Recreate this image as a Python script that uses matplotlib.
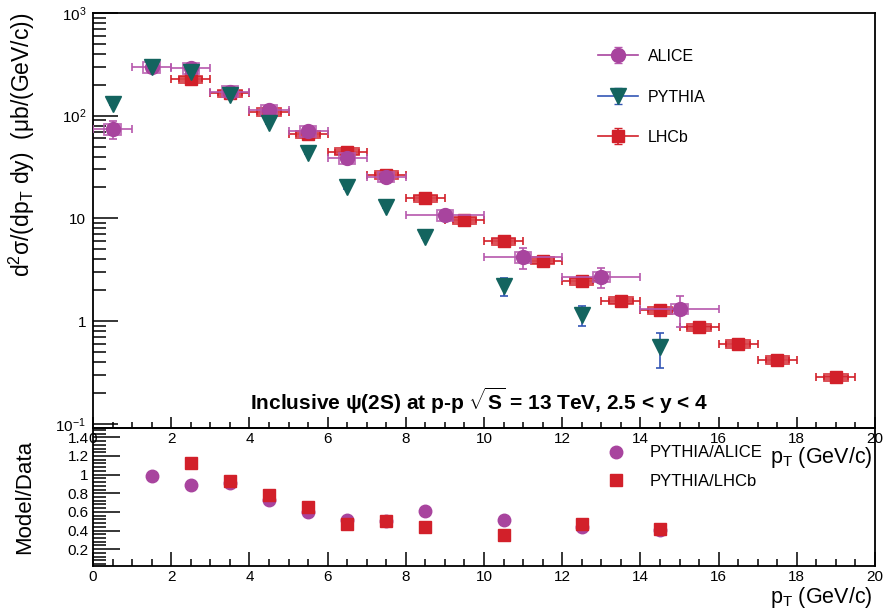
import numpy as np
import matplotlib
matplotlib.use("Agg")
import matplotlib.pyplot as plt
from matplotlib.patches import Rectangle
from matplotlib.ticker import FixedLocator, FixedFormatter, MultipleLocator, LogLocator, NullFormatter

plt.rcParams['font.family'] = ['Liberation Sans', 'DejaVu Sans']
plt.rcParams['mathtext.fontset'] = 'custom'
plt.rcParams['mathtext.rm'] = 'Liberation Sans'
plt.rcParams['mathtext.it'] = 'Liberation Sans:italic'
plt.rcParams['mathtext.bf'] = 'Liberation Sans:bold'
plt.rcParams['mathtext.default'] = 'regular'

# ---------------- data ----------------
alice_x = [0.5, 1.5, 2.5, 3.5, 4.5, 5.5, 6.5, 7.5, 9.0, 11.0, 13.0, 15.0]
alice_xerr = [0.5, 0.5, 0.5, 0.5, 0.5, 0.5, 0.5, 0.5, 1.0, 1.0, 1.0, 1.0]
alice_y = [74, 295, 292, 172, 114, 71, 38.6, 25.5, 10.8, 4.2, 2.7, 1.32]
alice_stat = [15, 20, 18, 8, 6, 4, 3, 2, 0.8, 1.0, 0.6, 0.45]
alice_sys = [0.12] * 12

pythia_x = [0.5, 1.5, 2.5, 3.5, 4.5, 5.5, 6.5, 7.5, 8.5, 10.5, 12.5, 14.5]
pythia_y = [130, 295, 265, 160, 85, 43.5, 20, 12.9, 6.6, 2.2, 1.15, 0.56]
pythia_err = [2, 4, 4, 3, 1.5, 0.8, 0.5, 0.3, 0.2, 0.45, 0.26, 0.21]

lhcb_x = [2.5, 3.5, 4.5, 5.5, 6.5, 7.5, 8.5, 9.5, 10.5, 11.5, 12.5, 13.5, 14.5,
          15.5, 16.5, 17.5, 19.0]
lhcb_xerr = [0.5] * 17
lhcb_y = [227, 166, 109, 66, 44.6, 26.5, 15.8, 9.6, 6.0, 3.87, 2.45, 1.58, 1.27,
          0.87, 0.60, 0.42, 0.283]
lhcb_stat = [8, 5, 3, 2, 1.3, 0.8, 0.5, 0.3, 0.2, 0.13, 0.09, 0.06, 0.05,
             0.035, 0.025, 0.02, 0.015]
lhcb_sys = [0.08] * 17

ratio_alice_x = [1.5, 2.5, 3.5, 4.5, 5.5, 6.5, 7.5, 8.5, 10.5, 12.5, 14.5]
ratio_alice_y = [0.99, 0.885, 0.91, 0.73, 0.595, 0.51, 0.50, 0.605, 0.51, 0.435, 0.41]
ratio_lhcb_x = [2.5, 3.5, 4.5, 5.5, 6.5, 7.5, 8.5, 10.5, 12.5, 14.5]
ratio_lhcb_y = [1.125, 0.935, 0.785, 0.65, 0.47, 0.505, 0.44, 0.355, 0.475, 0.415]

# ---------------- style ----------------
C_ALICE = '#a8449e'
C_ALICE_ERR = '#b657ad'
C_PYTHIA = '#13645f'
C_PYTHIA_ERR = '#3456b5'
C_LHCB = '#d2202a'

W, H = 883, 614
fig = plt.figure(figsize=(W / 100, H / 100), dpi=100)

def fx(px):
    return px / W

def fy(py):
    return 1 - py / H

ax = fig.add_axes([fx(93), fy(428), fx(875) - fx(93), fy(13) - fy(428)])
axr = fig.add_axes([fx(93), fy(566), fx(875) - fx(93), fy(428) - fy(566)])

# ---------------- top panel ----------------
ax.set_yscale('log')
ax.set_xlim(0, 20)
ax.set_ylim(0.091, 1000)

def draw_boxes(a, xs, ys, rel, hw, color, z):
    for xi, yi, ri in zip(xs, ys, rel):
        a.add_patch(Rectangle((xi - hw, yi * (1 - ri)), 2 * hw, yi * 2 * ri,
                              fill=False, ec=color, lw=1.3, zorder=z, alpha=0.85))

# LHCb
draw_boxes(ax, lhcb_x, lhcb_y, lhcb_sys, 0.3, C_LHCB, 3)
draw_boxes(ax, lhcb_x, lhcb_y, [s / 2 for s in lhcb_sys], 0.3, C_LHCB, 3)
ax.errorbar(lhcb_x, lhcb_y, xerr=lhcb_xerr, yerr=lhcb_stat, fmt='none',
            ecolor=C_LHCB, elinewidth=1.2, capsize=3, capthick=1.2, zorder=3)
ax.plot(lhcb_x, lhcb_y, 's', color=C_LHCB, ms=9, mec=C_LHCB, zorder=4)

# ALICE
draw_boxes(ax, alice_x, alice_y, alice_sys, 0.21, C_ALICE_ERR, 5)
ax.errorbar(alice_x, alice_y, xerr=alice_xerr, yerr=alice_stat, fmt='none',
            ecolor=C_ALICE_ERR, elinewidth=1.2, capsize=3, capthick=1.2, zorder=5)
ax.plot(alice_x, alice_y, 'o', color=C_ALICE, ms=10, mec=C_ALICE, zorder=6)

# PYTHIA
ax.errorbar(pythia_x, pythia_y, yerr=pythia_err, fmt='none',
            ecolor=C_PYTHIA_ERR, elinewidth=1.2, capsize=3, capthick=1.2, zorder=7)
ax.plot(pythia_x, pythia_y, 'v', color=C_PYTHIA, ms=12, mec=C_PYTHIA, zorder=8)

# legend proxies
nan = [np.nan]
h1 = ax.errorbar(nan, nan, yerr=[1], fmt='-o', color=C_ALICE, ecolor=C_ALICE_ERR,
                 ms=10, lw=1.2, capsize=3, label='ALICE')
h2 = ax.errorbar(nan, nan, yerr=[1], fmt='-v', color=C_PYTHIA, mfc=C_PYTHIA, mec=C_PYTHIA,
                 ecolor=C_PYTHIA_ERR, ms=12, lw=1.2, capsize=3, label='PYTHIA')
h2[0].set_color(C_PYTHIA_ERR)
h2[0].set_markerfacecolor(C_PYTHIA)
h2[0].set_markeredgecolor(C_PYTHIA)
h3 = ax.errorbar(nan, nan, yerr=[1], fmt='-s', color=C_LHCB, ecolor=C_LHCB,
                 ms=9, lw=1.2, capsize=3, label='LHCb')
leg = fig.legend(handles=[h1, h2, h3], loc='center left',
                 bbox_to_anchor=(fx(598), fy(97)), frameon=False, fontsize=11.5,
                 handlelength=2.5, handletextpad=0.6, labelspacing=1.6,
                 borderpad=0, borderaxespad=0)

# ticks top panel
ax.yaxis.set_major_locator(FixedLocator([0.1, 1, 10, 100, 1000]))
ax.yaxis.set_major_formatter(FixedFormatter(['$10^{-1}$', '1', '10', '$10^{2}$', '$10^{3}$']))
ax.yaxis.set_minor_locator(LogLocator(base=10, subs=np.arange(2, 10), numticks=20))
ax.yaxis.set_minor_formatter(NullFormatter())
ax.xaxis.set_major_locator(MultipleLocator(2))
ax.xaxis.set_minor_locator(MultipleLocator(0.5))
ax.tick_params(axis='y', which='major', direction='in', length=18, width=1.1,
               labelsize=11, pad=5)
ax.tick_params(axis='y', which='minor', direction='in', length=9, width=1.1)
ax.tick_params(axis='x', which='major', direction='in', length=8, width=1.1,
               labelsize=11, pad=3)
ax.tick_params(axis='x', which='minor', direction='in', length=4.3, width=1.1)
for s in ax.spines.values():
    s.set_linewidth(1.3)

fig.text(fx(22), fy(13), 'd$^{2}$σ/(dp$_{T}$ dy)  (μb/(GeV/c))', rotation=90,
         ha='center', va='top', fontsize=16.5)
fig.text(fx(873), fy(458), 'p$_{T}$ (GeV/c)', ha='right', va='center', fontsize=15.5)
fig.text(fx(250), fy(401),
         r'Inclusive ψ(2S) at p-p $\sqrt{\mathbf{S}}$ = 13 TeV, 2.5 < y < 4',
         ha='left', va='center', fontsize=15, fontweight='bold')

# ---------------- ratio panel ----------------
axr.set_xlim(0, 20)
axr.set_ylim(0.02, 1.5)
axr.set_facecolor('none')
axr.plot(ratio_alice_x, ratio_alice_y, 'o', color=C_ALICE, ms=9, label='PYTHIA/ALICE', zorder=3)
axr.plot(ratio_lhcb_x, ratio_lhcb_y, 's', color=C_LHCB, ms=8, label='PYTHIA/LHCb', zorder=4)
axr.legend(loc='center left', bbox_to_anchor=(fx(606), fy(467)),
           bbox_transform=fig.transFigure, frameon=False, fontsize=12,
           handlelength=1.2, handletextpad=1.4, labelspacing=0.8,
           borderpad=0, borderaxespad=0)

axr.yaxis.set_major_locator(FixedLocator([0.2, 0.4, 0.6, 0.8, 1.0, 1.2, 1.4]))
axr.yaxis.set_major_formatter(FixedFormatter(['0.2', '0.4', '0.6', '0.8', '1', '1.2', '1.4']))
axr.yaxis.set_minor_locator(MultipleLocator(0.04))
axr.xaxis.set_major_locator(MultipleLocator(2))
axr.xaxis.set_minor_locator(MultipleLocator(0.5))
axr.tick_params(axis='y', which='major', direction='in', length=19.5, width=1.1,
                labelsize=11, pad=3)
axr.tick_params(axis='y', which='minor', direction='in', length=9.5, width=1.1)
axr.tick_params(axis='x', which='major', direction='in', length=10, width=1.1,
                labelsize=11, pad=3)
axr.tick_params(axis='x', which='minor', direction='in', length=5, width=1.1)
for s in axr.spines.values():
    s.set_linewidth(1.3)

fig.text(fx(25), fy(497), 'Model/Data', rotation=90, ha='center', va='center', fontsize=16)
fig.text(fx(873), fy(597), 'p$_{T}$ (GeV/c)', ha='right', va='center', fontsize=15.5)

fig.savefig('out.png', dpi=100)
